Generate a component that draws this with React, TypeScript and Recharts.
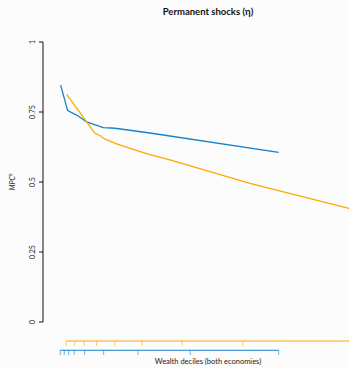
import React from "react";
import { ComposedChart, Line, XAxis, YAxis, ReferenceLine } from "recharts";

// Wealth (x) and MPC (y) values
const wealthBlue = [0.018, 0.339, 0.751, 1.209, 1.969, 2.504, 4.107, 10];
const mpcBlue = [0.846, 0.755, 0.739, 0.715, 0.694, 0.692, 0.675, 0.606];

const wealthOrange = [0.293, 1.209, 1.589, 1.818, 2.047, 2.582, 3.8, 4.107, 5.023, 8.684, 13.22, 13.77];
const mpcOrange = [0.813, 0.715, 0.674, 0.666, 0.653, 0.636, 0.605, 0.598, 0.579, 0.495, 0.406, 0.396];

// Wealth deciles for each economy
const blueDeciles = [0, 0.183, 0.385, 0.641, 1.117, 1.987, 3.558, 5.952, 10];
const orangeDeciles = [0.275, 0.659, 1.099, 1.667, 2.491, 3.755, 5.586, 8.352, 13.77];

const yTicks = [0, 0.25, 0.5, 0.75, 1];
const yTickLabels = ["0", "0.25", "0.5", "0.75", "1"];

const BLUE = "#1a80c8";
const ORANGE = "#ffa800";
const FONT = "Lato, 'Open Sans', sans-serif";

// rug-axis levels (in MPC units, below the plotted range)
const ORANGE_LEVEL = -0.068;
const ORANGE_TICK_END = -0.085;
const BLUE_LEVEL = -0.101;
const BLUE_TICK_END = -0.118;

const blueData = wealthBlue.map((w, i) => ({ w, mpc: mpcBlue[i] }));
const orangeData = wealthOrange.map((w, i) => ({ w, mpc: mpcOrange[i] }));

const YTick = (props: any) => {
  const { x, y, payload } = props;
  const idx = yTicks.indexOf(payload.value);
  const label = idx >= 0 ? yTickLabels[idx] : String(payload.value);
  return (
    <text
      transform={`translate(${x - 2},${y}) rotate(-90)`}
      textAnchor="middle"
      fontSize={7}
      fontFamily={FONT}
      fill="#222"
    >
      {label}
    </text>
  );
};

const YLabel = (props: any) => {
  const { viewBox } = props;
  const cy = viewBox.y + viewBox.height / 2;
  return (
    <text
      transform={`translate(15,${cy}) rotate(-90)`}
      textAnchor="middle"
      fontSize={7}
      fontStyle="italic"
      fontFamily={FONT}
      fill="#222"
    >
      MPC
      <tspan dy={-3} fontSize={5}>
        η
      </tspan>
    </text>
  );
};

function rug(deciles: number[], level: number, end: number, color: string, key: string) {
  const els = [
    <ReferenceLine
      key={key + "-base"}
      segment={[
        { x: deciles[0], y: level },
        { x: deciles[deciles.length - 1], y: level },
      ]}
      stroke={color}
      strokeWidth={1}
      ifOverflow="visible"
    />,
  ];
  deciles.forEach((d, i) =>
    els.push(
      <ReferenceLine
        key={key + "-t" + i}
        segment={[
          { x: d, y: level },
          { x: d, y: end },
        ]}
        stroke={color}
        strokeOpacity={0.6}
        strokeWidth={1}
        ifOverflow="visible"
      />
    )
  );
  return els;
}

export default function App() {
  return (
    <div
      style={{
        position: "absolute",
        left: 0,
        top: 0,
        width: 349,
        height: 369,
        overflow: "hidden",
        background: "#fcfcfc",
      }}
    >
      <div
        style={{
          position: "absolute",
          left: 0,
          width: 416,
          top: 6,
          textAlign: "center",
          fontFamily: FONT,
          fontWeight: 700,
          fontSize: 9.5,
          color: "#111",
        }}
      >
        Permanent shocks (η)
      </div>
      <ComposedChart
        width={375}
        height={369}
        margin={{ top: 42, right: 2, left: 0, bottom: 0 }}
      >
        <XAxis
          dataKey="w"
          type="number"
          domain={[-0.79, 14.32]}
          allowDataOverflow
          axisLine={false}
          tickLine={false}
          tick={false}
          height={47}
          label={{
            value: "Wealth deciles (both economies)",
            position: "insideBottom",
            offset: 5,
            fontSize: 7.5,
            fontFamily: FONT,
            fill: "#222",
          }}
        />
        <YAxis
          type="number"
          domain={[0, 1]}
          ticks={yTicks}
          width={43}
          axisLine={{ stroke: "#111", strokeWidth: 1 }}
          tickLine={{ stroke: "#111", strokeWidth: 1 }}
          tickSize={4}
          tick={<YTick />}
          label={<YLabel />}
        />
        <Line
          data={blueData}
          dataKey="mpc"
          stroke={BLUE}
          strokeWidth={1.3}
          dot={false}
          isAnimationActive={false}
        />
        <Line
          data={orangeData}
          dataKey="mpc"
          stroke={ORANGE}
          strokeWidth={1.3}
          dot={false}
          isAnimationActive={false}
        />
        {rug(orangeDeciles, ORANGE_LEVEL, ORANGE_TICK_END, ORANGE, "o")}
        {rug(blueDeciles, BLUE_LEVEL, BLUE_TICK_END, BLUE, "b")}
      </ComposedChart>
    </div>
  );
}
